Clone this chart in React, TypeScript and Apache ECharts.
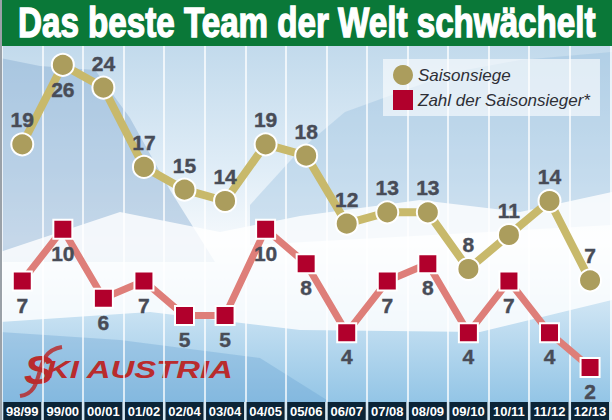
import React, { useEffect, useRef } from "react";
import * as echarts from "echarts";

const CATEGORIES = ["98/99", "99/00", "00/01", "01/02", "02/04", "03/04", "04/05", "05/06", "06/07", "07/08", "08/09", "09/10", "10/11", "11/12", "12/13"];
const SAISONSIEGE = [19, 26, 24, 17, 15, 14, 19, 18, 12, 13, 13, 8, 11, 14, 7];
const SAISONSIEGER = [7, 10, 6, 7, 5, 5, 10, 8, 4, 7, 8, 4, 7, 4, 2];
const SERIES_NAMES = ["Saisonsiege", "Zahl der Saisonsieger*"];
const TITLE = "Das beste Team der Welt schwächelt";
const BELOW_LABEL_INDEX = [1];

const SANS = "'Liberation Sans', Arial, sans-serif";

export default function App() {
  const ref = useRef<HTMLDivElement>(null);
  useEffect(() => {
    document.body.style.margin = "0";
    const chart = echarts.init(ref.current!, null, { renderer: "svg" });
    const labelBase = {
      show: true,
      fontFamily: SANS,
      fontWeight: "bold",
      fontSize: 21,
      color: "#484c57",
      textBorderColor: "#484c57",
      textBorderWidth: 0.4,
    };
    const siegeData = SAISONSIEGE.map((v, i) =>
      BELOW_LABEL_INDEX.includes(i) ? { value: v, label: { position: "bottom", distance: 2 } } : v
    );
    chart.setOption({
      animation: false,
      grid: { left: 2, right: 0, top: 46, bottom: 18 },
      legend: {
        orient: "vertical",
        left: 383,
        top: 59,
        itemWidth: 20,
        itemHeight: 20,
        itemGap: 5,
        padding: [6, 10, 6, 10],
        backgroundColor: "rgba(255,255,255,0.6)",
        selectedMode: false,
        itemStyle: { borderWidth: 0 },
        textStyle: { fontFamily: SANS, fontStyle: "italic", fontSize: 17, color: "#2e2f36" },
        data: [
          { name: SERIES_NAMES[0], icon: "circle" },
          { name: SERIES_NAMES[1], icon: "rect" },
        ],
      },
      xAxis: {
        type: "category",
        data: CATEGORIES,
        boundaryGap: true,
        axisLine: { show: false },
        axisTick: { show: false },
        splitLine: { show: true, lineStyle: { color: "rgba(255,255,255,0.95)", width: 1.5 } },
        axisLabel: {
          interval: 0,
          margin: 0,
          width: 38,
          height: 18,
          lineHeight: 18,
          align: "center",
          backgroundColor: "#0b2437",
          color: "#ffffff",
          fontFamily: SANS,
          fontWeight: "bold",
          fontSize: 13,
        },
      },
      yAxis: [
        { type: "value", min: -3.73, max: 27.67, show: false, splitLine: { show: false } },
        { type: "value", min: 0, max: 20.6, show: false, splitLine: { show: false } },
      ],
      graphic: [
        {
          type: "rect",
          z: -20,
          shape: { x: 0, y: 46, width: 612, height: 356 },
          style: {
            fill: new echarts.graphic.LinearGradient(0, 0, 0, 1, [
              { offset: 0, color: "#c2daec" },
              { offset: 0.35, color: "#e0edf7" },
              { offset: 0.55, color: "#f5f9fc" },
              { offset: 0.72, color: "#cfe5f4" },
              { offset: 1, color: "#93c5e6" },
            ]),
          },
        },
        {
          type: "polygon",
          z: -19,
          shape: { points: [[0, 58], [40, 66], [95, 70], [130, 118], [170, 190], [215, 262], [0, 262]] },
          style: { fill: "rgba(130,170,208,0.42)" },
        },
        {
          type: "polygon",
          z: -19,
          shape: { points: [[250, 205], [300, 150], [345, 112], [400, 92], [455, 72], [520, 60], [612, 52], [612, 225], [250, 245]] },
          style: { fill: "rgba(150,188,222,0.38)" },
        },
        {
          type: "polygon",
          z: -18,
          shape: { points: [[0, 252], [120, 212], [220, 232], [300, 216], [420, 200], [520, 212], [612, 192], [612, 300], [480, 332], [300, 330], [150, 312], [0, 322]] },
          style: { fill: "rgba(255,255,255,0.8)" },
        },
        {
          type: "polygon",
          z: -18,
          shape: { points: [[0, 332], [120, 340], [260, 358], [330, 402], [0, 402]] },
          style: { fill: "rgba(100,160,208,0.32)" },
        },
        {
          type: "rect",
          z: -20,
          shape: { x: 0, y: 402, width: 612, height: 18 },
          style: { fill: "#d6e7f2" },
        },
        {
          type: "rect",
          z: 10,
          shape: { x: 0, y: 0, width: 612, height: 46 },
          style: { fill: "#0a7838" },
        },
        {
          type: "rect",
          z: 11,
          shape: { x: 0, y: 0, width: 2, height: 420 },
          style: { fill: "#9aa1a8" },
        },
        {
          type: "text",
          z: 12,
          x: 18,
          y: 23,
          scaleX: 0.79,
          style: {
            text: TITLE,
            fill: "#ffffff",
            font: `bold 42px ${SANS}`,
            textAlign: "left",
            textVerticalAlign: "middle",
            stroke: "#ffffff",
            lineWidth: 1.4,
          },
        },
        {
          type: "bezierCurve",
          z: -5,
          shape: { x1: 20, y1: 396, x2: 62, y2: 347, cpx1: 48, cpy1: 392, cpx2: 30, cpy2: 352 },
          style: { stroke: "#b92c2d", lineWidth: 4, fill: "none", opacity: 0.85 },
        },
        {
          type: "text",
          z: -4,
          x: 24,
          y: 370,
          scaleX: 1.1,
          style: {
            text: "S",
            fill: "#b92c2d",
            font: `italic bold 40px ${SANS}`,
            textAlign: "left",
            textVerticalAlign: "middle",
          },
        },
        {
          type: "text",
          z: -4,
          x: 46,
          y: 370,
          scaleX: 1.37,
          style: {
            text: "KI AUSTRIA",
            fill: "#b92c2d",
            font: `italic bold 24px ${SANS}`,
            textAlign: "left",
            textVerticalAlign: "middle",
          },
        },
      ],
      series: [
        {
          name: SERIES_NAMES[0],
          type: "line",
          yAxisIndex: 0,
          data: siegeData,
          symbol: "circle",
          symbolSize: 22,
          z: 3,
          itemStyle: { color: "#ab9d5d", borderColor: "#ffffff", borderWidth: 2 },
          lineStyle: { color: "#c8b96b", width: 8 },
          label: { ...labelBase, position: "top", distance: 2 },
        },
        {
          name: SERIES_NAMES[1],
          type: "line",
          yAxisIndex: 1,
          data: SAISONSIEGER,
          symbol: "rect",
          symbolSize: 19,
          z: 4,
          itemStyle: { color: "#b1002c", borderColor: "#ffffff", borderWidth: 2 },
          lineStyle: { color: "#de7e79", width: 7 },
          label: { ...labelBase, position: "bottom", distance: 3 },
        },
      ],
    });
    return () => chart.dispose();
  }, []);
  return <div ref={ref} style={{ width: 612, height: 420 }} />;
}
